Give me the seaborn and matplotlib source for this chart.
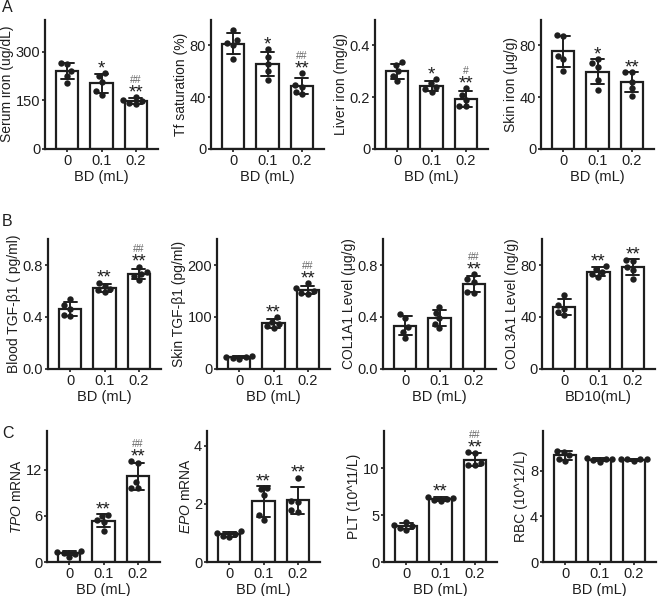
import matplotlib
matplotlib.use("Agg")
import matplotlib.pyplot as plt
import seaborn as sns
import numpy as np
import pandas as pd

# doses on the x axis
doses = ["0", "0.1", "0.2"]

# row A
serum_iron = [[265, 262, 242, 226, 205], [234, 226, 208, 178, 168], [160, 152, 148, 142, 138]]
tf_saturation = [[91.6, 84, 82, 80, 69.5], [77, 71, 66, 60, 53], [58.6, 49.5, 48, 44.4, 42.3]]
liver_iron = [[0.334, 0.323, 0.30, 0.283, 0.263], [0.27, 0.255, 0.24, 0.232, 0.222], [0.235, 0.21, 0.19, 0.165, 0.165]]
skin_iron = [[88.3, 87.5, 72, 69.4, 60.6], [69.4, 66.3, 63.7, 53.4, 45.7], [59.4, 59.1, 52, 47, 41.3]]

# row B
blood_tgf = [[0.535, 0.49, 0.465, 0.415, 0.41], [0.665, 0.64, 0.615, 0.61, 0.59], [0.787, 0.743, 0.73, 0.717, 0.683]]
skin_tgf = [[25, 24, 23, 21, 20], [100, 91, 86, 83, 79], [165, 155, 150, 147, 145]]
col1a1 = [[0.423, 0.392, 0.322, 0.288, 0.242], [0.475, 0.43, 0.39, 0.35, 0.315], [0.73, 0.69, 0.673, 0.595, 0.587]]
col3a1 = [[57, 49, 46.5, 44, 41.5], [79, 77, 75, 73, 71], [84.2, 83.4, 78.2, 76.1, 69.1]]

# row C
tpo = [[1.4, 1.3, 1.2, 1.1, 0.7], [6.1, 6.0, 5.4, 5.2, 4.0], [13.1, 12.9, 10.4, 9.6, 9.6]]
epo = [[1.05, 1.0, 0.95, 0.9, 0.85], [2.55, 2.5, 2.3, 1.6, 1.45], [2.9, 2.1, 2.05, 1.8, 1.72]]
plt_count = [[4.27, 4.0, 3.8, 3.65, 3.47], [7.0, 6.85, 6.75, 6.65, 6.5], [11.75, 11.6, 10.6, 10.4, 10.4]]
rbc = [[9.75, 9.7, 9.35, 9.05, 8.9], [9.1, 9.05, 9.0, 8.95, 8.8], [9.05, 9.05, 9.0, 9.0, 8.85]]

# labels, y ranges, ticks, significance marks (stars, hashes per dose)
panels = [
    # row A
    dict(vals=serum_iron, ylabel="Serum iron (ug/dL)", xlabel="BD (mL)", ylim=400, yticks=[0, 150, 300],
         ytl=["0", "150", "300"], stars=["", "*", "**"], hashes=["", "", "##"]),
    dict(vals=tf_saturation, ylabel="Tf saturation (%)", xlabel="BD (mL)", ylim=100, yticks=[0, 40, 80],
         ytl=["0", "40", "80"], stars=["", "*", "**"], hashes=["", "", "##"]),
    dict(vals=liver_iron, ylabel="Liver iron (mg/g)", xlabel="BD (mL)", ylim=0.5, yticks=[0, 0.2, 0.4],
         ytl=["0", "0.2", "0.4"], stars=["", "*", "**"], hashes=["", "", "#"]),
    dict(vals=skin_iron, ylabel="Skin iron (μg/g)", xlabel="BD (mL)", ylim=100, yticks=[0, 40, 80],
         ytl=["0", "40", "80"], stars=["", "*", "**"], hashes=["", "", ""]),
    # row B
    dict(vals=blood_tgf, ylabel="Blood TGF-β1 ( pg/ml)", xlabel="BD (mL)", ylim=1.0, yticks=[0, 0.4, 0.8],
         ytl=["0.0", "0.4", "0.8"], stars=["", "**", "**"], hashes=["", "", "##"]),
    dict(vals=skin_tgf, ylabel="Skin TGF-β1 (pg/ml)", xlabel="BD (mL)", ylim=250, yticks=[0, 100, 200],
         ytl=["0", "100", "200"], stars=["", "**", "**"], hashes=["", "", "##"]),
    dict(vals=col1a1, ylabel="COL1A1 Level (μg/g)", xlabel="BD (mL)", ylim=1.0, yticks=[0, 0.4, 0.8],
         ytl=["0.0", "0.4", "0.8"], stars=["", "", "**"], hashes=["", "", "##"]),
    dict(vals=col3a1, ylabel="COL3A1 Level (ng/g)", xlabel="BD10(mL)", ylim=100, yticks=[0, 40, 80],
         ytl=["0", "40", "80"], stars=["", "**", "**"], hashes=["", "", ""]),
    # row C
    dict(vals=tpo, ylabel=r"$\it{TPO}$ mRNA", xlabel="BD (mL)", ylim=17, yticks=[0, 6, 12],
         ytl=["0", "6", "12"], stars=["", "**", "**"], hashes=["", "", "##"]),
    dict(vals=epo, ylabel=r"$\it{EPO}$ mRNA", xlabel="BD (mL)", ylim=4.5, yticks=[0, 2, 4],
         ytl=["0", "2", "4"], stars=["", "**", "**"], hashes=["", "", ""]),
    dict(vals=plt_count, ylabel="PLT (10^11/L)", xlabel="BD (mL)", ylim=14, yticks=[0, 5, 10],
         ytl=["0", "5", "10"], stars=["", "**", "**"], hashes=["", "", "##"]),
    dict(vals=rbc, ylabel="RBC (10^12/L)", xlabel="BD (mL)", ylim=11.5, yticks=[0, 4, 8],
         ytl=["0", "4", "8"], stars=["", "", ""], hashes=["", "", ""]),
]

sns.set_theme(style="ticks")
plt.rcParams["font.family"] = ["Liberation Sans", "DejaVu Sans"]
plt.rcParams["mathtext.fontset"] = "custom"
plt.rcParams["mathtext.rm"] = "Liberation Sans"
plt.rcParams["mathtext.it"] = "Liberation Sans:italic"

ink = "#1e1e1e"
W, H = 658, 596
fig = plt.figure(figsize=(W / 100, H / 100), dpi=100)

# axes boxes in pixels: (top, bottom) per row, left edge per column, width shared
row_tb = [(19.5, 149), (239, 369), (431, 562)]
col_left = [[45, 211, 375, 541], [48, 217, 383, 542], [47, 207, 384, 543]]
ax_w = 113

for k, p in enumerate(panels):
    r, c = divmod(k, 4)
    top, bot = row_tb[r]
    left = col_left[r][c]
    ax = fig.add_axes([left / W, 1 - bot / H, ax_w / W, (bot - top) / H])

    df = pd.DataFrame({
        "dose": np.repeat(doses, [len(v) for v in p["vals"]]),
        "value": np.concatenate(p["vals"]),
    })

    sns.barplot(data=df, x="dose", y="value", order=doses, errorbar="sd", capsize=0.38,
                width=0.65, color="white", edgecolor=ink, linewidth=1.6,
                err_kws={"color": ink, "linewidth": 1.4}, ax=ax)
    sns.swarmplot(data=df, x="dose", y="value", order=doses, color=ink, size=4.6, ax=ax)

    ax.set_xlim(-0.65, 2.65)
    ax.set_ylim(0, p["ylim"])
    ax.set_yticks(p["yticks"])
    ax.set_yticklabels(p["ytl"])
    ax.set_xlabel(p["xlabel"], fontsize=10.5, color=ink, labelpad=1.5)
    ax.set_ylabel(p["ylabel"], fontsize=10, color=ink, labelpad=1)
    ax.tick_params(axis="both", labelsize=10.5, colors=ink, length=2.5, width=1.2, pad=1)
    sns.despine(ax=ax)
    for s in ["left", "bottom"]:
        ax.spines[s].set_linewidth(1.6)
        ax.spines[s].set_color(ink)

    # significance marks
    for i, d in enumerate(doses):
        v = np.array(p["vals"][i])
        hi = max(v.max(), v.mean() + v.std(ddof=1))
        if p["stars"][i]:
            ax.annotate(p["stars"][i], xy=(i, hi), xytext=(0, -3), textcoords="offset points",
                        ha="center", va="bottom", fontsize=13.5, color=ink)
        if p["hashes"][i]:
            ax.annotate(p["hashes"][i], xy=(i, hi), xytext=(0, 9), textcoords="offset points",
                        ha="center", va="bottom", fontsize=7.5, color="#666666")

# panel letters
for letter, y in [("A", 7), ("B", 221), ("C", 434)]:
    fig.text(2 / W, 1 - y / H, letter, fontsize=11.5, color=ink, ha="left", va="center")

fig.savefig("out.png", dpi=100)
